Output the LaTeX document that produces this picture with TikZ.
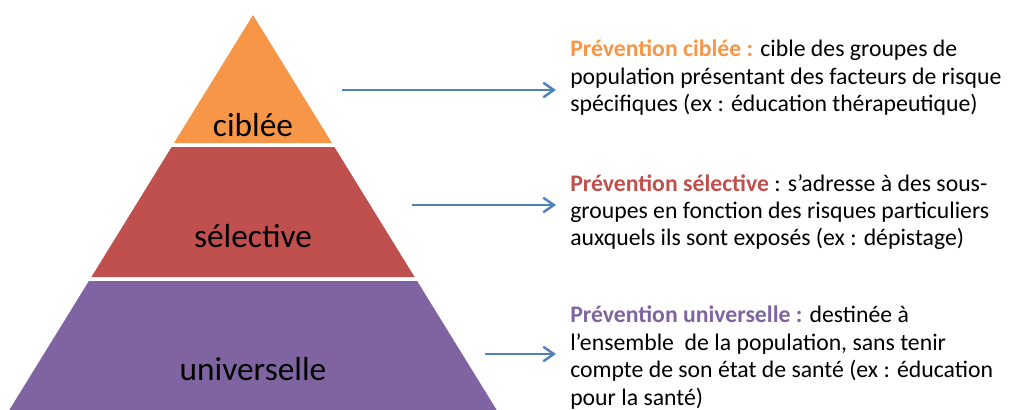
\documentclass[tikz,border=0pt]{standalone}
\usepackage{fontspec}
\setmainfont{Carlito}
\usepackage{tikz}
\usetikzlibrary{arrows.meta, positioning, calc}
\definecolor{ciblee}{RGB}{247, 150, 70}
\definecolor{selective}{RGB}{192, 80, 77}
\definecolor{univ}{RGB}{128, 100, 162}
\definecolor{arrowblue}{RGB}{79, 129, 189}

\begin{document}
\begin{tikzpicture}[x=0.75pt, y=-0.75pt,
  level/.style={anchor=base, font=\fontsize{25}{30}\selectfont, inner sep=0pt},
  desc/.style={anchor=north west, align=left, inner sep=0pt, font=\fontsize{17.8}{20.6}\selectfont},
  pointer/.style={-{Straight Barb[length=8pt, width=11pt]}, line width=1.8pt, arrowblue}]
  \useasboundingbox (0, 0) rectangle (1010, 410);

  % pyramid bands
  \fill[ciblee] (253, 15) -- (332, 143) -- (174, 143) -- cycle;
  \fill[selective] (334.4, 147) -- (414.6, 277) -- (91.4, 277) -- (171.6, 147) -- cycle;
  \fill[univ] (417.1, 281) -- (496.7, 410) -- (9.3, 410) -- (88.9, 281) -- cycle;

  % labels
  \node[level] (lcib) at (253, 137) {ciblée};
  \node[level] (lsel) at (253, 247) {sélective};
  \node[level] (luni) at (253, 380) {universelle};

  % ciblée
  \node[desc] (tcib) at (570, 40) {
    {\bfseries\textcolor{ciblee}{Prévention ciblée :}} cible des groupes de\\
    population présentant des facteurs de risque\\
    spécifiques (ex : éducation thérapeutique)};
  \coordinate (scib) at (342, 90);
  \coordinate (ecib) at (556, 90);
  \draw[pointer] (scib) -- (ecib);

  % sélective
  \node[desc] (tsel) at (570, 174) {
    {\bfseries\textcolor{selective}{Prévention sélective}} : s’adresse à des sous-\\
    groupes en fonction des risques particuliers\\
    auxquels ils sont exposés (ex : dépistage)};
  \coordinate (ssel) at (412, 205);
  \coordinate (esel) at (556, 205);
  \draw[pointer] (ssel) -- (esel);

  % universelle
  \node[desc] (tuni) at (570, 306) {
    {\bfseries\textcolor{univ}{Prévention universelle :}} destinée à\\
    l’ensemble~ de la population, sans tenir\\
    compte de son état de santé (ex : éducation\\
    pour la santé)};
  \coordinate (suni) at (485, 354);
  \coordinate (euni) at (556, 354);
  \draw[pointer] (suni) -- (euni);
\end{tikzpicture}
\end{document}
